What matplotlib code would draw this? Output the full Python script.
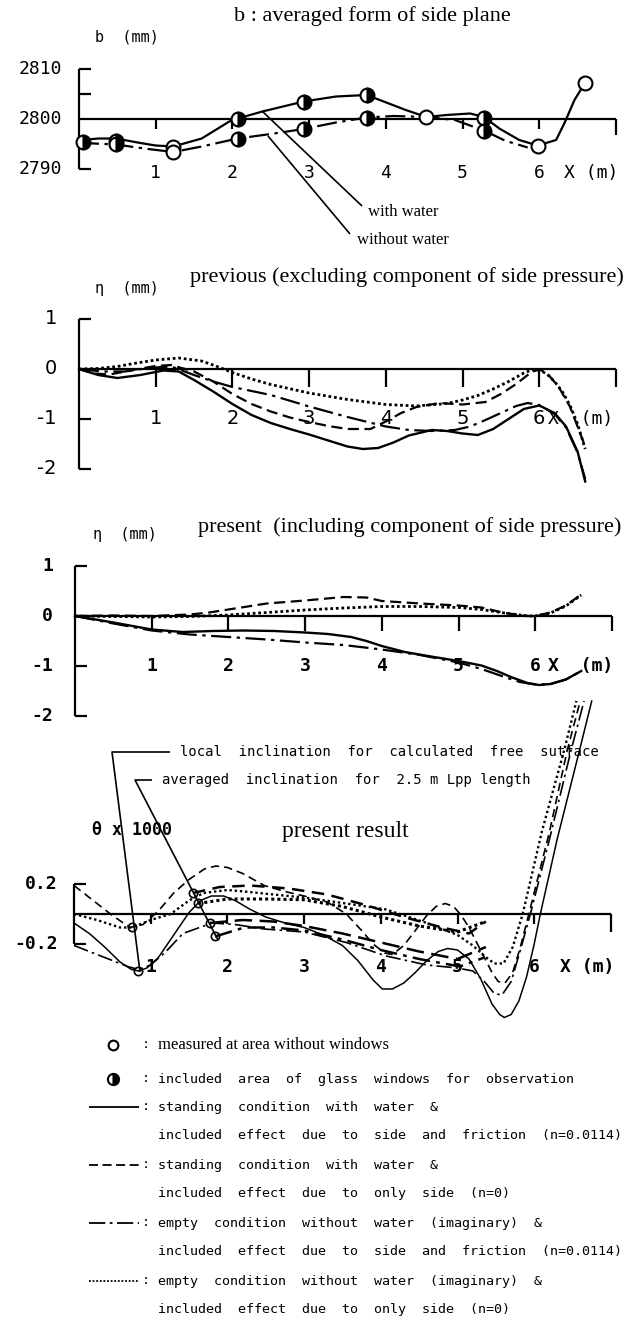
import matplotlib
matplotlib.use('Agg')
import matplotlib.pyplot as plt

W, H = 635, 1320
MONO = 'DejaVu Sans Mono'
SERIF = 'Liberation Serif'

# ---------------- data ----------------
# panel 1: b averaged form of side plane (mm)
b_with_x = [0.0, 0.05, 0.25, 0.48, 0.8, 1.0, 1.23, 1.6, 1.96, 2.07, 2.39, 2.93, 3.35, 3.75,
            4.04, 4.26, 4.53, 4.79, 5.1, 5.28, 5.48, 5.74, 5.98, 6.22, 6.33, 6.46, 6.6]
b_with_y = [2795.6, 2795.8, 2796.1, 2796.1, 2795.2, 2794.7, 2794.5, 2796.1, 2799.5, 2800.1,
            2801.5, 2803.5, 2804.5, 2804.8, 2803.1, 2801.8, 2800.4, 2800.8, 2801.1, 2800.4,
            2798.1, 2795.8, 2794.7, 2795.8, 2799.2, 2803.8, 2807.3]
b_without_x = [0.0, 0.05, 0.48, 0.9, 1.23, 1.6, 2.07, 2.5, 2.93, 3.35, 3.75, 4.1, 4.53, 4.9,
               5.28, 5.55, 5.85]
b_without_y = [2795.3, 2795.2, 2794.9, 2794.0, 2793.4, 2794.5, 2796.1, 2797.0, 2798.0, 2799.3,
               2800.3, 2800.6, 2800.4, 2799.8, 2797.7, 2795.7, 2794.3]
open_x = [1.23, 4.53, 5.98, 6.6, 1.23]
open_y = [2794.4, 2800.4, 2794.7, 2807.3, 2793.5]
half_x = [0.05, 0.48, 2.07, 2.93, 3.75, 5.28, 0.48, 2.07, 2.93, 3.75, 5.28]
half_y = [2795.4, 2795.6, 2800.0, 2803.5, 2804.8, 2800.2, 2795.0, 2796.1, 2798.1, 2800.3, 2797.7]

# panel 2: previous (excluding component of side pressure)
prev_solid_x = [0, 0.25, 0.5, 0.8, 1.1, 1.3, 1.5, 1.75, 2.0, 2.25, 2.5, 2.75, 3.0, 3.25, 3.5,
                3.7, 3.9, 4.1, 4.3, 4.6, 4.8, 5.0, 5.2, 5.4, 5.6, 5.8, 6.0, 6.2, 6.35, 6.5, 6.6]
prev_solid_y = [0, -0.12, -0.18, -0.12, -0.03, -0.05, -0.22, -0.45, -0.70, -0.92, -1.08, -1.2,
                -1.31, -1.43, -1.55, -1.6, -1.58, -1.47, -1.33, -1.22, -1.24, -1.29, -1.32,
                -1.2, -1.0, -0.8, -0.73, -0.88, -1.15, -1.65, -2.25]
prev_dd_x = [0, 0.3, 0.6, 0.9, 1.2, 1.5, 1.75, 2.0, 2.5, 3.0, 3.5, 4.0, 4.3, 4.6, 4.9, 5.1,
             5.3, 5.5, 5.7, 5.85, 6.0, 6.2, 6.35, 6.5, 6.6]
prev_dd_y = [0, -0.05, -0.05, 0.02, 0.05, -0.12, -0.25, -0.36, -0.52, -0.75, -0.96, -1.15,
             -1.22, -1.24, -1.22, -1.15, -1.02, -0.88, -0.74, -0.68, -0.72, -0.9, -1.17,
             -1.67, -2.2]
prev_dash_x = [0, 0.2, 0.4, 0.7, 1.0, 1.2, 1.5, 1.75, 2.0, 2.25, 2.5, 2.75, 3.0, 3.25, 3.5,
               3.8, 4.0, 4.2, 4.4, 4.7, 5.0, 5.3, 5.5, 5.7, 5.9, 6.0, 6.1, 6.25, 6.4, 6.5, 6.6]
prev_dash_y = [0, -0.09, -0.11, -0.02, 0.06, 0.08, -0.05, -0.25, -0.5, -0.7, -0.85, -0.97,
               -1.06, -1.14, -1.2, -1.2, -1.05, -0.88, -0.76, -0.68, -0.71, -0.66, -0.5, -0.3,
               -0.06, -0.01, -0.08, -0.35, -0.75, -1.15, -1.55]
prev_dot_x = [0, 0.25, 0.5, 0.75, 1.0, 1.3, 1.6, 1.8, 2.0, 2.25, 2.5, 3.0, 3.5, 4.0, 4.4, 4.8,
              5.0, 5.2, 5.4, 5.6, 5.8, 5.9, 6.0, 6.1, 6.2, 6.3, 6.4, 6.5, 6.6]
prev_dot_y = [0, 0.01, 0.05, 0.12, 0.18, 0.22, 0.16, 0.05, -0.07, -0.2, -0.31, -0.48, -0.61,
              -0.71, -0.74, -0.69, -0.62, -0.53, -0.4, -0.25, -0.08, -0.02, -0.02, -0.1,
              -0.25, -0.45, -0.72, -1.1, -1.6]

# panel 3: present (including component of side pressure)
pres_solid_x = [0, 0.5, 1.0, 1.4, 1.8, 2.2, 2.6, 3.0, 3.3, 3.6, 3.8, 4.0, 4.3, 4.6, 5.0, 5.3,
                5.5, 5.7, 5.9, 6.05, 6.2, 6.4, 6.6]
pres_solid_y = [0, -0.13, -0.27, -0.32, -0.3, -0.29, -0.3, -0.33, -0.36, -0.42, -0.5, -0.6,
                -0.72, -0.8, -0.9, -0.99, -1.1, -1.23, -1.34, -1.38, -1.36, -1.27, -1.1]
pres_dd_x = [0, 0.5, 1.0, 1.5, 2.0, 2.5, 3.0, 3.5, 4.0, 4.5, 5.0, 5.3, 5.6, 5.8, 6.0, 6.2,
             6.4, 6.6]
pres_dd_y = [0, -0.15, -0.29, -0.37, -0.42, -0.47, -0.53, -0.58, -0.67, -0.78, -0.93, -1.06,
             -1.22, -1.32, -1.37, -1.36, -1.27, -1.1]
pres_dash_x = [0, 0.5, 1.0, 1.5, 1.75, 2.0, 2.5, 3.0, 3.5, 3.8, 4.0, 4.5, 5.0, 5.3, 5.6, 5.9,
               6.0, 6.2, 6.4, 6.6]
pres_dash_y = [0, 0.01, 0.0, 0.03, 0.07, 0.13, 0.25, 0.31, 0.38, 0.37, 0.3, 0.25, 0.21, 0.17,
               0.06, 0.0, 0.0, 0.07, 0.21, 0.43]
pres_dot_x = [0, 0.5, 1.0, 1.5, 2.0, 2.5, 3.0, 3.5, 4.0, 4.5, 5.0, 5.3, 5.6, 5.9, 6.0, 6.2,
              6.4, 6.6]
pres_dot_y = [0, -0.01, -0.02, -0.01, 0.02, 0.07, 0.12, 0.16, 0.19, 0.19, 0.17, 0.13, 0.06,
              0.0, 0.0, 0.06, 0.2, 0.42]

# panel 4: present result, theta x 1000 (local inclination)
loc_solid_x = [0, 0.2, 0.4, 0.6, 0.75, 0.84, 0.95, 1.1, 1.3, 1.5, 1.65, 1.79, 1.95, 2.1, 2.3,
               2.5, 2.75, 3.0, 3.25, 3.5, 3.7, 3.9, 4.02, 4.15, 4.3, 4.45, 4.6, 4.75, 4.87,
               5.0, 5.15, 5.3, 5.45, 5.55, 5.61, 5.7, 5.8, 5.9, 6.0, 6.08, 6.3, 6.59, 6.75]
loc_solid_y = [-0.06, -0.13, -0.22, -0.32, -0.37, -0.38, -0.36, -0.29, -0.14, 0.01, 0.09,
               0.12, 0.12, 0.09, 0.03, -0.02, -0.06, -0.09, -0.14, -0.21, -0.31, -0.44, -0.5,
               -0.5, -0.46, -0.39, -0.31, -0.25, -0.23, -0.24, -0.3, -0.43, -0.6, -0.67,
               -0.69, -0.67, -0.58, -0.42, -0.2, 0.0, 0.5, 1.09, 1.42]
loc_dash_x = [0, 0.15, 0.3, 0.5, 0.73, 0.9, 1.1, 1.3, 1.5, 1.7, 1.85, 2.0, 2.2, 2.48, 2.75,
              3.0, 3.3, 3.55, 3.75, 3.9, 4.05, 4.15, 4.3, 4.45, 4.6, 4.72, 4.84, 4.95, 5.05,
              5.15, 5.3, 5.45, 5.53, 5.62, 5.72, 5.82, 5.93, 6.2, 6.43, 6.6]
loc_dash_y = [0.19, 0.13, 0.07, -0.01, -0.09, -0.07, 0.02, 0.14, 0.23, 0.3, 0.32, 0.31, 0.27,
              0.19, 0.15, 0.12, 0.08, 0.0, -0.11, -0.2, -0.26, -0.27, -0.21, -0.11, -0.01,
              0.05, 0.07, 0.05, -0.01, -0.09, -0.24, -0.39, -0.45, -0.46, -0.39, -0.22, 0.0,
              0.55, 1.09, 1.42]
loc_dot_x = [0, 0.3, 0.6, 0.76, 1.0, 1.26, 1.5, 1.69, 2.0, 2.22, 2.6, 3.0, 3.55, 4.07, 4.6,
             5.0, 5.2, 5.35, 5.48, 5.6, 5.72, 5.85, 6.1, 6.39, 6.55]
loc_dot_y = [0.0, -0.04, -0.09, -0.09, -0.04, 0.0, 0.09, 0.14, 0.16, 0.15, 0.13, 0.11, 0.07,
             0.03, -0.06, -0.14, -0.21, -0.28, -0.33, -0.33, -0.22, 0.0, 0.55, 1.09, 1.42]
loc_dd_x = [0, 0.4, 0.7, 0.84, 1.0, 1.2, 1.42, 1.8, 2.1, 2.48, 3.0, 3.55, 4.07, 4.6, 5.0,
            5.2, 5.35, 5.48, 5.58, 5.7, 5.82, 5.95, 6.2, 6.48, 6.65]
loc_dd_y = [-0.21, -0.29, -0.35, -0.37, -0.34, -0.25, -0.13, -0.06, -0.07, -0.1, -0.12,
            -0.19, -0.28, -0.34, -0.36, -0.38, -0.45, -0.53, -0.54, -0.45, -0.24, 0.0, 0.5,
            1.09, 1.42]
# averaged inclination over 2.5 m
avg_dash_x = [1.55, 1.9, 2.3, 2.8, 3.3, 3.8, 4.3, 4.8, 5.15, 5.37]
avg_dash_y = [0.14, 0.18, 0.19, 0.17, 0.13, 0.06, -0.02, -0.09, -0.13, -0.05]
avg_dot_x = [1.62, 2.0, 2.5, 3.0, 3.5, 4.0, 4.5, 5.0, 5.37]
avg_dot_y = [0.07, 0.1, 0.1, 0.095, 0.05, -0.02, -0.08, -0.12, -0.05]
avg_solid_x = [1.77, 2.2, 2.6, 3.0, 3.5, 4.0, 4.5, 5.0, 5.37]
avg_solid_y = [-0.06, -0.04, -0.05, -0.08, -0.13, -0.19, -0.25, -0.3, -0.22]
avg_dd_x = [1.84, 2.22, 2.6, 3.0, 3.5, 4.0, 4.5, 5.03, 5.35]
avg_dd_y = [-0.15, -0.09, -0.09, -0.11, -0.17, -0.24, -0.3, -0.35, -0.29]
incl_mark_x = [0.76, 0.84, 1.55, 1.62, 1.77, 1.84]
incl_mark_y = [-0.09, -0.38, 0.14, 0.07, -0.06, -0.15]

x_ticks = [1, 2, 3, 4, 5, 6]

# ---------------- styles ----------------
SOLID = '-'
DASH = (0, (5, 2.5))
DASHDOT = (0, (9, 2.5, 1.5, 2.5))
DOT = (0, (1, 1))

fig = plt.figure(figsize=(6.35, 13.2), dpi=100)


def make_panel(top, bottom, x0, xs, yv, yp, ys):
    # axes spanning the full width; x0 = pixel of x=0, xs px per metre,
    # value yv sits at pixel row yp, ys px per unit
    ax = fig.add_axes([0, 1 - bottom / H, 1, (bottom - top) / H])
    ax.set_xlim(-x0 / xs, (W - x0) / xs)
    ax.set_ylim(yv - (bottom - yp) / ys, yv + (yp - top) / ys)
    ax.axis('off')
    ax.patch.set_visible(False)
    return ax


def frame(ax, xs, ys, ybase, ytop, ybot, yticks, down, enddown, lw=1.6):
    k = dict(color='black', lw=lw, clip_on=False, solid_capstyle='butt')
    ax.plot([0, 7], [ybase, ybase], **k)
    ax.plot([0, 0], [ybot, ytop], **k)
    for t in yticks:
        ax.plot([0, 12 / xs], [t, t], **k)
    for t in x_ticks:
        ax.plot([t, t], [ybase, ybase - down / ys], **k)
    ax.plot([7, 7], [ybase, ybase - enddown / ys], **k)


def curve(ax, x, y, ls, lw=1.5):
    ax.plot(x, y, color='black', ls=ls, lw=lw, clip_on=False)


# ---------------- panel 1 ----------------
XS = 76.7
ax1 = make_panel(0, 250, 79, XS, 2800, 119, 5)
frame(ax1, XS, 5, 2800, 2810, 2790, [2810, 2805, 2790], 10, 16)
curve(ax1, b_with_x, b_with_y, SOLID, 1.6)
curve(ax1, b_without_x, b_without_y, DASHDOT, 1.6)
ax1.plot(open_x, open_y, 'o', ms=10, mfc='white', mec='black', mew=1.5, clip_on=False)
ax1.plot(half_x, half_y, 'o', ms=10, fillstyle='right', mfc='black', mfcalt='white',
         mec='black', mew=1.5, clip_on=False)
for v in [2810, 2800, 2790]:
    ax1.text(-17 / XS, v, str(v), ha='right', va='center', family=MONO, fontsize=13)
for t in x_ticks:
    ax1.text(t, 2800 - 54 / 5, str(t), ha='center', va='center', family=MONO, fontsize=13)
ax1.text((564 - 79) / XS, 2800 - 54 / 5, 'X (m)', ha='left', va='center', family=MONO,
         fontsize=13)

# ---------------- panel 2 ----------------
ax2 = make_panel(250, 495, 79, XS, 0, 369, 50)
frame(ax2, XS, 50, 0, 1, -2, [1, -1, -2], 18, 18)
curve(ax2, prev_solid_x, prev_solid_y, SOLID, 1.7)
curve(ax2, prev_dd_x, prev_dd_y, DASHDOT, 1.6)
curve(ax2, prev_dash_x, prev_dash_y, DASH, 1.6)
curve(ax2, prev_dot_x, prev_dot_y, DOT, 2.0)
for v in [1, 0, -1, -2]:
    ax2.text(-22 / XS, v, str(v), ha='right', va='center', family='DejaVu Sans', fontsize=14)
for t in x_ticks:
    ax2.text(t, -1, str(t), ha='center', va='center', family='DejaVu Sans', fontsize=14)
ax2.text((548 - 79) / XS, -1, 'X  (m)', ha='left', va='center', family=MONO, fontsize=13)

# ---------------- panel 3 ----------------
ax3 = make_panel(495, 740, 75, XS, 0, 616, 50)
frame(ax3, XS, 50, 0, 1, -2, [1, -1, -2], 15, 15)
curve(ax3, pres_solid_x, pres_solid_y, SOLID, 1.7)
curve(ax3, pres_dd_x, pres_dd_y, DASHDOT, 1.6)
curve(ax3, pres_dash_x, pres_dash_y, DASH, 1.6)
curve(ax3, pres_dot_x, pres_dot_y, DOT, 2.0)
for v in [1, 0, -1, -2]:
    ax3.text(-22 / XS, v, str(v), ha='right', va='center', family=MONO, fontsize=13,
             weight='bold')
for t in x_ticks:
    ax3.text(t, -1, str(t), ha='center', va='center', family=MONO, fontsize=13, weight='bold')
ax3.text((548 - 75) / XS, -1, 'X  (m)', ha='left', va='center', family=MONO, fontsize=13,
         weight='bold')

# ---------------- panel 4 ----------------
ax4 = make_panel(740, 1030, 74, XS, 0, 914, 150)
frame(ax4, XS, 150, 0, 0.2, -0.2, [0.2, -0.2], 10, 18)
curve(ax4, loc_solid_x, loc_solid_y, SOLID, 1.1)
curve(ax4, loc_dash_x, loc_dash_y, (0, (5, 3)), 1.2)
curve(ax4, loc_dot_x, loc_dot_y, (0, (1, 1.2)), 1.7)
curve(ax4, loc_dd_x, loc_dd_y, (0, (9, 2.5, 1.5, 2.5)), 1.2)
curve(ax4, avg_dash_x, avg_dash_y, (0, (5, 3)), 1.8)
curve(ax4, avg_dot_x, avg_dot_y, (0, (1, 1)), 2.2)
curve(ax4, avg_solid_x, avg_solid_y, (0, (7, 3)), 1.8)
curve(ax4, avg_dd_x, avg_dd_y, (0, (7, 2.5, 1.5, 2.5)), 1.8)
ax4.plot(incl_mark_x, incl_mark_y, 'o', ms=6, mfc='none', mec='black', mew=1.2, clip_on=False)
for v in [0.2, -0.2]:
    ax4.text(-16 / XS, v, f'{v:.1f}', ha='right', va='center', family=MONO, fontsize=13,
             weight='bold')
for t in x_ticks:
    ax4.text(t, -53 / 150, str(t), ha='center', va='center', family=MONO, fontsize=13,
             weight='bold')
ax4.text((560 - 74) / XS, -53 / 150, 'X (m)', ha='left', va='center', family=MONO,
         fontsize=13, weight='bold')

# ---------------- overlay: titles, notes, legend (pixel coordinates) ----------------
ov = fig.add_axes([0, 0, 1, 1])
ov.set_xlim(0, W)
ov.set_ylim(H, 0)
ov.axis('off')
ov.patch.set_visible(False)


def line(xs, ys, ls='-', lw=1.2):
    ov.plot(xs, ys, color='black', ls=ls, lw=lw, solid_capstyle='butt')


ov.text(372, 16, 'b : averaged form of side plane', ha='center', va='center', family=SERIF,
        fontsize=16)
ov.text(95, 37, 'b  (mm)', ha='left', va='center', family=MONO, fontsize=11)
ov.text(368, 212, 'with water', ha='left', va='center', family=SERIF, fontsize=12)
ov.text(357, 240, 'without water', ha='left', va='center', family=SERIF, fontsize=12)
line([262, 362], [111, 206])
line([268, 350], [136, 234])

ov.text(407, 277, 'previous (excluding component of side pressure)', ha='center',
        va='center', family=SERIF, fontsize=16)
ov.text(95, 288, 'η  (mm)', ha='left', va='center', family=MONO, fontsize=11)

ov.text(410, 527, 'present  (including component of side pressure)', ha='center',
        va='center', family=SERIF, fontsize=16)
ov.text(93, 535, 'η  (mm)', ha='left', va='center', family=MONO, fontsize=11)

ov.text(180, 752, 'local  inclination  for  calculated  free  sutface', ha='left',
        va='center', family=MONO, fontsize=10)
ov.text(162, 780, 'averaged  inclination  for  2.5 m Lpp length', ha='left', va='center',
        family=MONO, fontsize=10)
line([170, 112, 140], [752, 752, 972])
line([152, 135, 218], [780, 780, 940])
ov.text(92, 830, 'θ x 1000', ha='left', va='center', family=MONO, fontsize=12, weight='bold')
ov.text(345, 832, 'present result', ha='center', va='center', family=SERIF, fontsize=17)

# legend
LF = 9.6
ov.plot([113], [1045], 'o', ms=7, mfc='white', mec='black', mew=1.5)
ov.plot([113], [1079], 'o', ms=8, fillstyle='right', mfc='black', mfcalt='white',
        mec='black', mew=1.5)
ov.text(146, 1045, ':', ha='center', va='center', family=MONO, fontsize=LF)
ov.text(158, 1045, 'measured at area without windows', ha='left', va='center',
        family=SERIF, fontsize=12)
ov.text(146, 1079, ':', ha='center', va='center', family=MONO, fontsize=LF)
ov.text(158, 1079, 'included  area  of  glass  windows  for  observation', ha='left',
        va='center', family=MONO, fontsize=LF)

legend_rows = [
    (SOLID, 'standing  condition  with  water  &',
     'included  effect  due  to  side  and  friction  (n=0.0114)'),
    (DASH, 'standing  condition  with  water  &',
     'included  effect  due  to  only  side  (n=0)'),
    (DASHDOT, 'empty  condition  without  water  (imaginary)  &',
     'included  effect  due  to  side  and  friction  (n=0.0114)'),
    ((0, (1, 1)), 'empty  condition  without  water  (imaginary)  &',
     'included  effect  due  to  only  side  (n=0)'),
]
row_y = [1107, 1165, 1223, 1281]
for (ls, l1, l2), y in zip(legend_rows, row_y):
    line([89, 139], [y, y], ls=ls, lw=1.3)
    ov.text(146, y, ':', ha='center', va='center', family=MONO, fontsize=LF)
    ov.text(158, y, l1, ha='left', va='center', family=MONO, fontsize=LF)
    ov.text(158, y + 29, l2, ha='left', va='center', family=MONO, fontsize=LF)

fig.savefig('out.png', dpi=100)
